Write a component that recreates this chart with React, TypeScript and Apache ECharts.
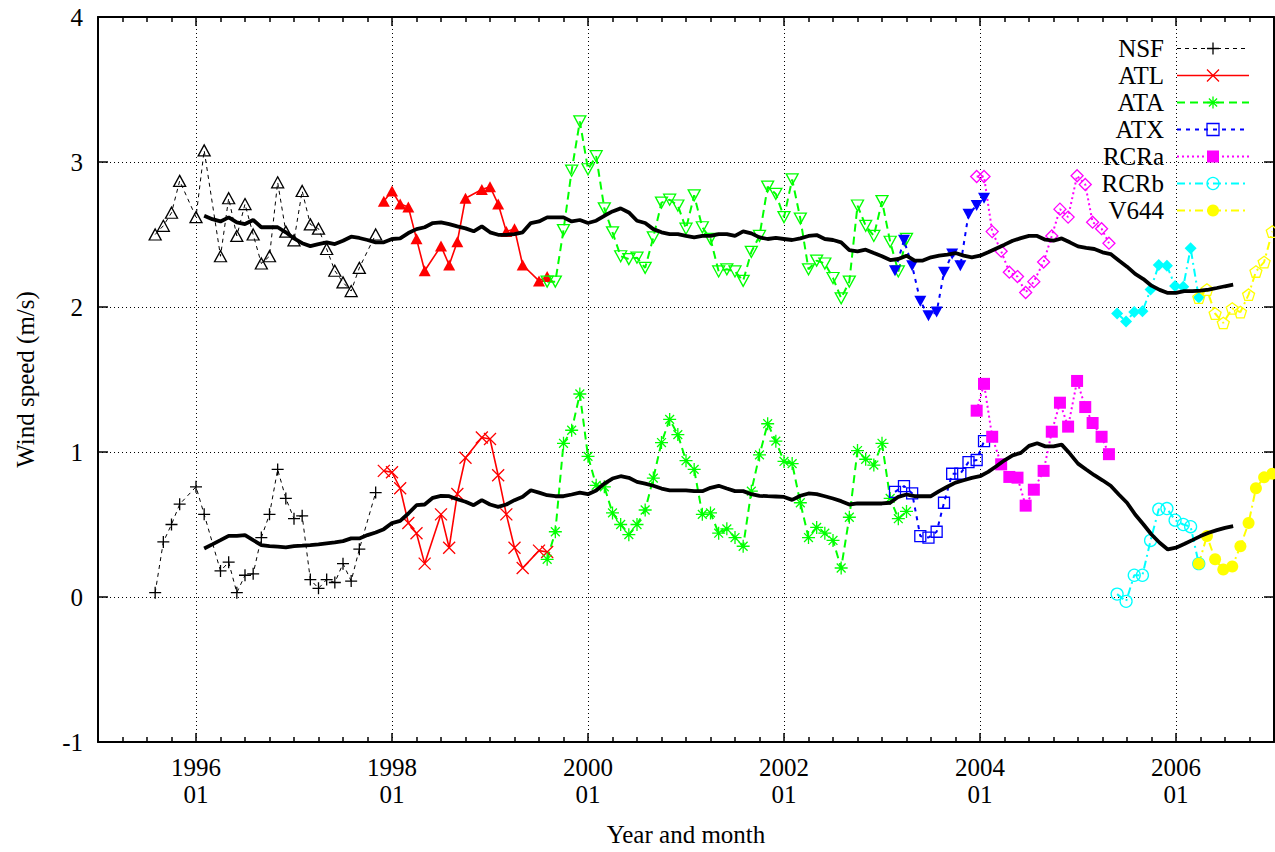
import React, { useEffect, useRef } from "react";
import * as echarts from "echarts";

const FONT = '"Liberation Serif", "DejaVu Serif", "Times New Roman", serif';

// ---- Station observations (date, upper curve, lower curve) ----
const nsfDates = [
  "1995-08-01", "1995-09-01", "1995-10-01", "1995-11-01", "1996-01-01", "1996-02-01",
  "1996-04-01", "1996-05-01", "1996-06-01", "1996-07-01", "1996-08-01", "1996-09-01",
  "1996-10-01", "1996-11-01", "1996-12-01", "1997-01-01", "1997-02-01", "1997-03-01",
  "1997-04-01", "1997-05-01", "1997-06-01", "1997-07-01", "1997-08-01", "1997-09-01",
  "1997-11-01",
];
const nsfUpper = [
  2.5, 2.56, 2.65, 2.87, 2.62, 3.08, 2.35, 2.75, 2.49, 2.71, 2.5, 2.3, 2.35, 2.86, 2.52,
  2.46, 2.8, 2.57, 2.54, 2.4, 2.25, 2.17, 2.11, 2.27, 2.5,
];
const nsfLower = [
  0.03, 0.38, 0.5, 0.64, 0.76, 0.57, 0.18, 0.24, 0.03, 0.15, 0.16, 0.41, 0.57, 0.88, 0.68,
  0.54, 0.56, 0.12, 0.06, 0.12, 0.1, 0.23, 0.11, 0.33, 0.72,
];

const atlDates = [
  "1997-12-01", "1998-01-01", "1998-02-01", "1998-03-01", "1998-04-01", "1998-05-01",
  "1998-07-01", "1998-08-01", "1998-09-01", "1998-10-01", "1998-12-01", "1999-01-01",
  "1999-02-01", "1999-03-01", "1999-04-01", "1999-05-01", "1999-07-01", "1999-08-01",
];
const atlUpper = [
  2.73, 2.8, 2.71, 2.69, 2.47, 2.25, 2.42, 2.29, 2.45, 2.75, 2.81, 2.83, 2.71, 2.52, 2.54,
  2.29, 2.18, 2.21,
];
const atlLower = [
  0.87, 0.86, 0.75, 0.51, 0.44, 0.23, 0.57, 0.34, 0.71, 0.96, 1.1, 1.09, 0.84, 0.57, 0.34,
  0.2, 0.32, 0.31,
];

const ataDates = [
  "1999-08-01", "1999-09-01", "1999-10-01", "1999-11-01", "1999-12-01", "2000-01-01",
  "2000-02-01", "2000-03-01", "2000-04-01", "2000-05-01", "2000-06-01", "2000-07-01",
  "2000-08-01", "2000-09-01", "2000-10-01", "2000-11-01", "2000-12-01", "2001-01-01",
  "2001-02-01", "2001-03-01", "2001-04-01", "2001-05-01", "2001-06-01", "2001-07-01",
  "2001-08-01", "2001-09-01", "2001-10-01", "2001-11-01", "2001-12-01", "2002-01-01",
  "2002-02-01", "2002-03-01", "2002-04-01", "2002-05-01", "2002-06-01", "2002-07-01",
  "2002-08-01", "2002-09-01", "2002-10-01", "2002-11-01", "2002-12-01", "2003-01-01",
  "2003-02-01", "2003-03-01", "2003-04-01",
];
const ataUpper = [
  2.175, 2.175, 2.53, 2.94, 3.28, 2.95, 3.04, 2.68, 2.515, 2.35, 2.33, 2.34, 2.27, 2.48,
  2.72, 2.74, 2.7, 2.54, 2.77, 2.55, 2.47, 2.245, 2.26, 2.245, 2.18, 2.38, 2.49, 2.83, 2.78,
  2.62, 2.88, 2.61, 2.26, 2.32, 2.3, 2.2, 2.06, 2.175, 2.7, 2.56, 2.49, 2.73, 2.45, 2.245,
  2.47,
];
const ataLower = [
  0.26, 0.45, 1.06, 1.15, 1.4, 0.97, 0.77, 0.76, 0.58, 0.5, 0.43, 0.5, 0.6, 0.82, 1.065,
  1.225, 1.12, 0.94, 0.88, 0.57, 0.58, 0.44, 0.47, 0.41, 0.35, 0.73, 0.98, 1.195, 1.075,
  0.935, 0.92, 0.65, 0.41, 0.48, 0.44, 0.39, 0.2, 0.55, 1.01, 0.95, 0.91, 1.06, 0.68, 0.54,
  0.59,
];

const atxDates = [
  "2003-02-19", "2003-03-22", "2003-04-22", "2003-05-22", "2003-06-22", "2003-07-22",
  "2003-08-19", "2003-09-19", "2003-10-19", "2003-11-19", "2003-12-19", "2004-01-16",
];
const atxUpper = [2.25, 2.46, 2.285, 2.04, 1.94, 1.965, 2.24, 2.365, 2.285, 2.64, 2.7, 2.75];
const atxLower = [0.725, 0.765, 0.715, 0.42, 0.41, 0.45, 0.65, 0.85, 0.85, 0.93, 0.945, 1.075];

const rcraDates = [
  "2003-12-19", "2004-01-16", "2004-02-16", "2004-03-19", "2004-04-19", "2004-05-19",
  "2004-06-19", "2004-07-19", "2004-08-25", "2004-09-25", "2004-10-25", "2004-11-25",
  "2004-12-28", "2005-01-28", "2005-02-25", "2005-03-28", "2005-04-25",
];
const rcraUpper = [
  2.9, 2.9, 2.52, 2.385, 2.24, 2.21, 2.1, 2.175, 2.31, 2.49, 2.675, 2.62, 2.905, 2.845,
  2.585, 2.54, 2.44,
];
const rcraLower = [
  1.285, 1.47, 1.105, 0.915, 0.828, 0.823, 0.63, 0.74, 0.87, 1.14, 1.34, 1.175, 1.49, 1.31,
  1.2, 1.105, 0.985,
];

const rcrbDates = [
  "2005-05-25", "2005-06-28", "2005-07-28", "2005-08-28", "2005-09-28", "2005-10-28",
  "2005-11-28", "2005-12-28", "2006-01-28", "2006-02-25", "2006-03-25",
];
const rcrbUpper = [1.955, 1.9, 1.965, 1.97, 2.12, 2.29, 2.285, 2.145, 2.14, 2.405, 2.065];
const rcrbLower = [0.02, -0.03, 0.15, 0.15, 0.39, 0.605, 0.61, 0.53, 0.5, 0.485, 0.23];

const v644Dates = [
  "2006-03-25", "2006-04-25", "2006-05-25", "2006-06-25", "2006-07-28", "2006-08-28",
  "2006-09-28", "2006-10-25", "2006-11-25", "2006-12-25",
];
const v644Upper = [2.065, 2.12, 1.955, 1.89, 1.99, 1.965, 2.085, 2.245, 2.31, 2.52];
const v644Lower = [0.23, 0.42, 0.26, 0.19, 0.21, 0.35, 0.51, 0.75, 0.825, 0.85];

// ---- Monthly running means, starting 1996-02 ----
const meanStart = "1996-02-01";
const meanUpper = [
  2.63, 2.606, 2.59, 2.618, 2.584, 2.572, 2.6, 2.55, 2.55, 2.55, 2.515, 2.473, 2.44, 2.42,
  2.434, 2.446, 2.434, 2.457, 2.485, 2.476, 2.462, 2.446, 2.446, 2.469, 2.473, 2.51, 2.537,
  2.55, 2.579, 2.584, 2.572, 2.556, 2.542, 2.522, 2.556, 2.515, 2.498, 2.498, 2.503, 2.515,
  2.579, 2.59, 2.618, 2.618, 2.618, 2.59, 2.6, 2.579, 2.595, 2.629, 2.659, 2.68, 2.652,
  2.595, 2.579, 2.537, 2.515, 2.503, 2.503, 2.49, 2.48, 2.49, 2.49, 2.503, 2.503, 2.49,
  2.522, 2.508, 2.48, 2.469, 2.476, 2.469, 2.462, 2.473, 2.49, 2.496, 2.469, 2.462, 2.446,
  2.393, 2.384, 2.395, 2.372, 2.35, 2.324, 2.331, 2.354, 2.32, 2.32, 2.343, 2.354, 2.361,
  2.372, 2.354, 2.343, 2.354, 2.377, 2.404, 2.43, 2.457, 2.475, 2.49, 2.49, 2.464, 2.457,
  2.473, 2.446, 2.418, 2.407, 2.4, 2.377, 2.365, 2.32, 2.278, 2.228, 2.193, 2.147, 2.118,
  2.097, 2.097, 2.109, 2.109, 2.113, 2.12, 2.131, 2.143, 2.154,
];
const meanLower = [
  0.335, 0.363, 0.392, 0.422, 0.422, 0.427, 0.392, 0.358, 0.351, 0.347, 0.342, 0.351, 0.354,
  0.358, 0.363, 0.37, 0.376, 0.385, 0.404, 0.404, 0.427, 0.445, 0.468, 0.51, 0.525, 0.576,
  0.633, 0.638, 0.684, 0.698, 0.695, 0.674, 0.657, 0.633, 0.668, 0.638, 0.622, 0.638, 0.668,
  0.691, 0.736, 0.72, 0.702, 0.695, 0.695, 0.707, 0.72, 0.709, 0.735, 0.782, 0.817, 0.833,
  0.822, 0.794, 0.782, 0.767, 0.748, 0.736, 0.736, 0.736, 0.73, 0.73, 0.753, 0.767, 0.748,
  0.73, 0.73, 0.709, 0.698, 0.695, 0.693, 0.69, 0.67, 0.698, 0.714, 0.709, 0.695, 0.679,
  0.661, 0.638, 0.645, 0.645, 0.645, 0.645, 0.65, 0.691, 0.707, 0.695, 0.695, 0.695, 0.73,
  0.76, 0.789, 0.805, 0.822, 0.833, 0.863, 0.902, 0.943, 0.977, 0.994, 1.042, 1.06, 1.039,
  1.039, 1.051, 0.989, 0.92, 0.879, 0.84, 0.805, 0.767, 0.707, 0.65, 0.569, 0.502, 0.431,
  0.374, 0.328, 0.34, 0.365, 0.392, 0.42, 0.443, 0.461, 0.477, 0.489,
];

// Axis ranges
const yearMin = 1995;
const yearMax = 2007;
const speedMin = -1;
const speedMax = 4;

// ---- Marker shapes ----
const PLUS = "path://M0,5H10M5,0V10";
const CROSS = "path://M0,0L10,10M10,0L0,10";
const STAR = "path://M0,5H10M5,0V10M1.6,1.6L8.4,8.4M8.4,1.6L1.6,8.4";
const PENTAGON = "path://M5,0L10,3.7L8.1,9.6L1.9,9.6L0,3.7Z";

function toYear(d: string): number {
  const [y, m, day] = d.split("-").map(Number);
  return y + (m - 1) / 12 + ((day || 1) - 1) / 365;
}

type Mark = { symbol: string; filled: boolean; size: number | number[]; rotate?: number };

type Station = {
  name: string;
  dates: string[];
  upper: number[];
  lower: number[];
  color: string;
  dash: number[] | "solid";
  width: number;
  upperMark: Mark;
  lowerMark: Mark;
};

const stations: Station[] = [
  {
    name: "NSF", dates: nsfDates, upper: nsfUpper, lower: nsfLower, color: "#000000",
    dash: [4, 4], width: 1,
    upperMark: { symbol: "triangle", filled: false, size: [12, 11] },
    lowerMark: { symbol: PLUS, filled: false, size: 12 },
  },
  {
    name: "ATL", dates: atlDates, upper: atlUpper, lower: atlLower, color: "#ff0000",
    dash: "solid", width: 1.6,
    upperMark: { symbol: "triangle", filled: true, size: [12, 11] },
    lowerMark: { symbol: CROSS, filled: false, size: 12 },
  },
  {
    name: "ATA", dates: ataDates, upper: ataUpper, lower: ataLower, color: "#00ff00",
    dash: [8, 5], width: 2,
    upperMark: { symbol: "triangle", filled: false, size: [12, 11], rotate: 180 },
    lowerMark: { symbol: STAR, filled: false, size: 13 },
  },
  {
    name: "ATX", dates: atxDates, upper: atxUpper, lower: atxLower, color: "#0000ff",
    dash: [4, 5], width: 2,
    upperMark: { symbol: "triangle", filled: true, size: [12, 11], rotate: 180 },
    lowerMark: { symbol: "rect", filled: false, size: 11 },
  },
  {
    name: "RCRa", dates: rcraDates, upper: rcraUpper, lower: rcraLower, color: "#ff00ff",
    dash: [2, 3], width: 2,
    upperMark: { symbol: "diamond", filled: false, size: 12 },
    lowerMark: { symbol: "rect", filled: true, size: 12 },
  },
  {
    name: "RCRb", dates: rcrbDates, upper: rcrbUpper, lower: rcrbLower, color: "#00ffff",
    dash: [8, 4, 2, 4], width: 2,
    upperMark: { symbol: "diamond", filled: true, size: 12 },
    lowerMark: { symbol: "circle", filled: false, size: 12 },
  },
  {
    name: "V644", dates: v644Dates, upper: v644Upper, lower: v644Lower, color: "#ffff00",
    dash: [8, 4, 2, 4], width: 2,
    upperMark: { symbol: PENTAGON, filled: false, size: 12 },
    lowerMark: { symbol: "circle", filled: true, size: 12 },
  },
];

function markStyle(st: Station, mark: Mark) {
  return mark.filled
    ? { color: st.color, borderWidth: 0 }
    : { color: "none", borderColor: st.color, borderWidth: 1.3 };
}

function lineStyleOf(st: Station) {
  return { color: st.color, width: st.width, type: st.dash };
}

function stationSeries(st: Station, values: number[], mark: Mark) {
  return {
    type: "line",
    name: st.name,
    data: st.dates.map((d, i) => [toYear(d), values[i]]),
    symbol: mark.symbol,
    symbolSize: mark.size,
    symbolRotate: mark.rotate || 0,
    symbolKeepAspect: true,
    showAllSymbol: true,
    lineStyle: lineStyleOf(st),
    itemStyle: markStyle(st, mark),
    emphasis: { disabled: true },
    z: 3,
  };
}

function meanSeries(name: string, values: number[]) {
  const x0 = toYear(meanStart);
  return {
    type: "line",
    name,
    data: values.map((v, i) => [x0 + i / 12, v]),
    symbol: "none",
    lineStyle: { color: "#000000", width: 3.8, type: "solid" },
    itemStyle: { color: "#000000" },
    emphasis: { disabled: true },
    z: 5,
  };
}

const tickStyle = { color: "#000000", width: 1.5 };

export default function App() {
  const ref = useRef<HTMLDivElement>(null);

  useEffect(() => {
    if (!ref.current) return;
    const chart = echarts.init(ref.current, undefined, { renderer: "svg" });

    const series: any[] = [];
    stations.forEach((st) => series.push(stationSeries(st, st.lower, st.lowerMark)));
    stations.forEach((st) => series.push(stationSeries(st, st.upper, st.upperMark)));
    series.push(meanSeries("Running mean (upper)", meanUpper));
    series.push(meanSeries("Running mean (lower)", meanLower));

    const xCommon = {
      type: "value",
      min: yearMin,
      max: yearMax,
      splitNumber: 6,
      axisLine: { show: true, onZero: false, lineStyle: { color: "#000000", width: 2 } },
      axisTick: { show: true, inside: true, length: 9, lineStyle: tickStyle },
      minorTick: { show: true, splitNumber: 8, length: 5, lineStyle: tickStyle },
    };

    chart.setOption({
      animation: false,
      backgroundColor: "#ffffff",
      grid: { left: 98, right: 1, top: 17, bottom: 108, containLabel: false },
      legend: {
        data: stations.map((st) => ({
          name: st.name,
          lineStyle: lineStyleOf(st),
          itemStyle: markStyle(st, st.lowerMark),
        })),
        orient: "vertical",
        right: 20,
        top: 31,
        align: "right",
        itemWidth: 72,
        itemHeight: 15,
        itemGap: 2,
        selectedMode: false,
        textStyle: {
          fontFamily: FONT,
          fontSize: 25,
          color: "#000000",
          lineHeight: 25,
          padding: [0, 8, 0, 0],
        },
      },
      xAxis: [
        {
          ...xCommon,
          position: "bottom",
          axisLabel: {
            formatter: (v: number) => `${Math.round(v)}\n01`,
            showMinLabel: false,
            showMaxLabel: false,
            fontFamily: FONT,
            fontSize: 25,
            color: "#000000",
            lineHeight: 27,
            margin: 12,
          },
          splitLine: { show: true, lineStyle: { color: "#000000", width: 1, type: [1, 3] } },
          name: "Year and month",
          nameLocation: "middle",
          nameGap: 80,
          nameTextStyle: { fontFamily: FONT, fontSize: 25, color: "#000000" },
        },
        {
          ...xCommon,
          position: "top",
          axisLabel: { show: false },
          splitLine: { show: false },
        },
      ],
      yAxis: [
        {
          type: "value",
          min: speedMin,
          max: speedMax,
          interval: 1,
          position: "left",
          axisLine: { show: true, onZero: false, lineStyle: { color: "#000000", width: 2 } },
          axisTick: { show: true, inside: true, length: 10, lineStyle: tickStyle },
          axisLabel: {
            fontFamily: FONT,
            fontSize: 25,
            color: "#000000",
            margin: 15,
          },
          splitLine: { show: true, lineStyle: { color: "#000000", width: 1, type: [1, 3] } },
          name: "Wind speed (m/s)",
          nameLocation: "middle",
          nameGap: 60,
          nameRotate: 90,
          nameTextStyle: { fontFamily: FONT, fontSize: 25, color: "#000000" },
        },
        {
          type: "value",
          min: speedMin,
          max: speedMax,
          interval: 1,
          position: "right",
          axisLine: { show: true, onZero: false, lineStyle: { color: "#000000", width: 2 } },
          axisTick: { show: true, inside: true, length: 10, lineStyle: tickStyle },
          axisLabel: { show: false },
          splitLine: { show: false },
        },
      ],
      series,
    });

    return () => chart.dispose();
  }, []);

  return (
    <div
      ref={ref}
      style={{ position: "fixed", left: 0, top: 0, width: 1275, height: 852, background: "#fff" }}
    />
  );
}
